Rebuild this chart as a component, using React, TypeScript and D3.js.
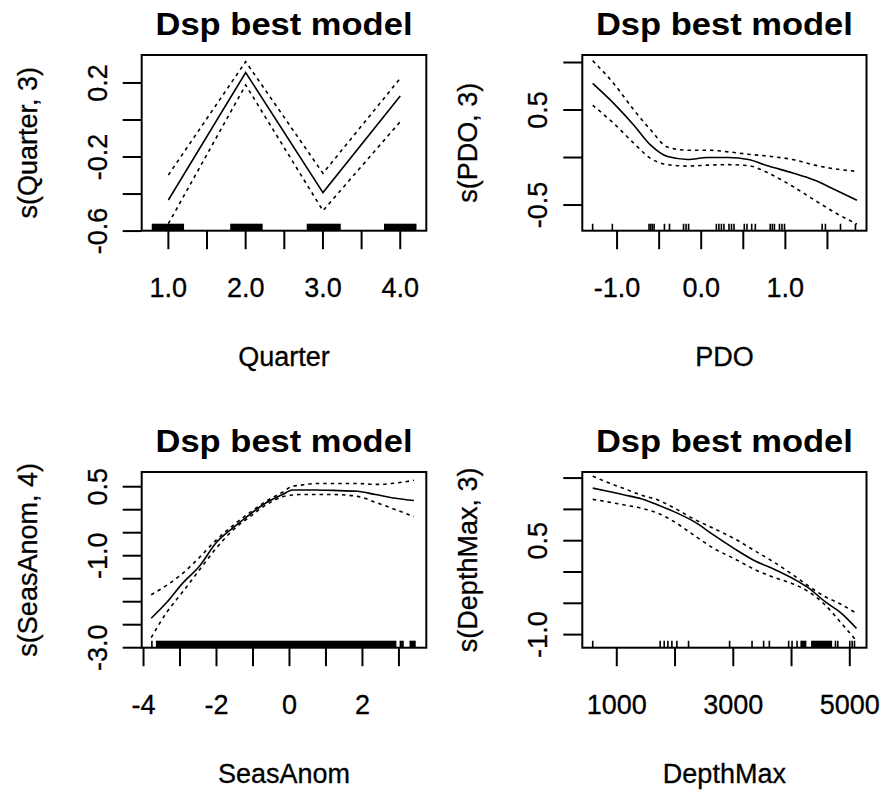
import React from "react";
import * as d3 from "d3";

// ---------- Quarter ----------
const quarterX = [1, 2, 3, 4];
const quarterFit = [-0.432, 0.256, -0.392, 0.13];
const quarterUpper = [-0.297, 0.315, -0.288, 0.225];
const quarterLower = [-0.56, 0.189, -0.49, -0.009];
const quarterRugTicks: number[] = [];
const quarterRugBands = [[0.785, 1.203], [1.8, 2.22], [2.79, 3.23], [3.79, 4.21]];
const quarterXDomain = [0.655, 4.337];
const quarterYDomain = [-0.598, 0.351];
const quarterXTicks = [1, 1.5, 2, 2.5, 3, 3.5, 4];
const quarterXLabels = ["1.0", "", "2.0", "", "3.0", "", "4.0"];
const quarterYTicks = [-0.6, -0.4, -0.2, 0, 0.2];
const quarterYLabels = ["-0.6", "", "-0.2", "", "0.2"];

// ---------- PDO ----------
const pdoX = [-1.29, -1.04, -0.8, -0.6, -0.4, -0.16, 0.08, 0.32, 0.56, 0.8, 1.08, 1.35, 1.59, 1.85];
const pdoFit = [0.78, 0.57, 0.34, 0.13, 0.01, -0.02, 0.0, 0.0, -0.02, -0.09, -0.16, -0.24, -0.34, -0.45];
const pdoUpper = [1.02, 0.78, 0.5, 0.29, 0.11, 0.077, 0.077, 0.06, 0.035, 0.014, -0.02, -0.08, -0.12, -0.145];
const pdoLower = [0.55, 0.36, 0.15, -0.01, -0.075, -0.09, -0.08, -0.075, -0.085, -0.165, -0.3, -0.45, -0.58, -0.7];
const pdoRugTicks = [-1.29, -1.056, -0.62, -0.6, -0.58, -0.56, -0.437, -0.377, -0.21, -0.18, -0.15, 0.18, 0.21, 0.24, 0.27, 0.33, 0.36, 0.39, 0.512, 0.544, 0.6, 0.643, 0.82, 0.845, 0.87, 0.93, 0.96, 0.99, 1.437, 1.476, 1.655, 1.833];
const pdoRugBands: number[][] = [];
const pdoXDomain = [-1.413, 1.964];
const pdoYDomain = [-0.77, 1.079];
const pdoXTicks = [-1, -0.5, 0, 0.5, 1, 1.5];
const pdoXLabels = ["-1.0", "", "0.0", "", "1.0", ""];
const pdoYTicks = [-0.5, 0, 0.5, 1];
const pdoYLabels = ["-0.5", "", "0.5", ""];

// ---------- SeasAnom ----------
const seasX = [-3.79, -3.38, -2.92, -2.47, -2.01, -1.56, -1.1, -0.65, -0.19, 0.08, 0.27, 0.72, 1.18, 1.86, 2.36, 2.91, 3.41];
const seasFit = [-2.36, -2.03, -1.59, -1.23, -0.72, -0.4, -0.11, 0.145, 0.33, 0.43, 0.43, 0.43, 0.42, 0.4, 0.33, 0.25, 0.2];
const seasUpper = [-1.85, -1.65, -1.38, -1.04, -0.66, -0.35, -0.07, 0.18, 0.38, 0.51, 0.53, 0.57, 0.57, 0.57, 0.55, 0.58, 0.64];
const seasLower = [-2.78, -2.25, -1.78, -1.31, -0.84, -0.45, -0.16, 0.1, 0.28, 0.32, 0.33, 0.33, 0.33, 0.29, 0.16, 0.0, -0.15];
const seasRugTicks = [-3.77, 3.04, 3.08, 3.11];
const seasRugBands = [[-3.66, 2.93], [3.29, 3.46]];
const seasXDomain = [-4.05, 3.75];
const seasYDomain = [-3.0, 0.82];
const seasXTicks = [-4, -3, -2, -1, 0, 1, 2, 3];
const seasXLabels = ["-4", "", "-2", "", "0", "", "2", ""];
const seasYTicks = [-3, -2.5, -2, -1.5, -1, -0.5, 0, 0.5];
const seasYLabels = ["-3.0", "", "", "", "-1.0", "", "", "0.5"];

// ---------- DepthMax ----------
const depthX = [587, 845, 1132, 1418, 1705, 1991, 2335, 2679, 3023, 3367, 3711, 4054, 4284, 4570, 4857, 5115];
const depthFit = [1.34, 1.29, 1.23, 1.17, 1.07, 0.96, 0.8, 0.58, 0.37, 0.18, 0.04, -0.12, -0.25, -0.47, -0.66, -0.9];
const depthUpper = [1.53, 1.43, 1.33, 1.23, 1.15, 1.02, 0.84, 0.69, 0.53, 0.34, 0.15, -0.065, -0.22, -0.39, -0.52, -0.66];
const depthLower = [1.16, 1.12, 1.07, 1.02, 0.94, 0.8, 0.58, 0.37, 0.21, 0.04, -0.09, -0.2, -0.31, -0.52, -0.82, -1.1];
const depthRugTicks = [587, 1745, 1814, 1877, 1946, 2032, 2232, 2937, 3322, 3521, 3619, 3951, 4009, 4095, 4754, 4794, 5000, 5041, 5081];
const depthRugBands = [[4152, 4255], [4336, 4697]];
const depthXDomain = [408, 5287];
const depthYDomain = [-1.209, 1.597];
const depthXTicks = [1000, 2000, 3000, 4000, 5000];
const depthXLabels = ["1000", "", "3000", "", "5000"];
const depthYTicks = [-1, -0.5, 0, 0.5, 1, 1.5];
const depthYLabels = ["-1.0", "", "", "0.5", "", ""];

const titleText = "Dsp best model";
const FONT = "'Liberation Sans', Arial, Helvetica, sans-serif";

type PanelProps = {
  id: string;
  box: [number, number, number, number];
  xs: number[];
  fit: number[];
  upper: number[];
  lower: number[];
  rugTicks: number[];
  rugBands: number[][];
  xDomain: number[];
  yDomain: number[];
  xTicks: number[];
  xLabels: string[];
  yTicks: number[];
  yLabels: string[];
  xTitle: string;
  yTitle: string;
  curve: any;
};

function Panel(p: PanelProps) {
  const [x0, y0, x1, y1] = p.box;
  const x = d3.scaleLinear().domain(p.xDomain).range([x0, x1]);
  const y = d3.scaleLinear().domain(p.yDomain).range([y1, y0]);
  const line = (vals: number[]) =>
    d3
      .line<number>()
      .x((_, i) => x(p.xs[i]))
      .y((d) => y(d))
      .curve(p.curve)(vals) || "";
  const cx = (x0 + x1) / 2;
  const cy = (y0 + y1) / 2;
  const textStyle = { stroke: "#000", strokeWidth: 0.3 };
  return (
    <g>
      <defs>
        <clipPath id={"clip-" + p.id}>
          <rect x={x0} y={y0} width={x1 - x0} height={y1 - y0} />
        </clipPath>
      </defs>
      <g clipPath={`url(#clip-${p.id})`}>
        <path d={line(p.fit)} fill="none" stroke="#000" strokeWidth={1.6} />
        <path d={line(p.upper)} fill="none" stroke="#000" strokeWidth={1.6} strokeDasharray="3.5 4" />
        <path d={line(p.lower)} fill="none" stroke="#000" strokeWidth={1.6} strokeDasharray="3.5 4" />
        {p.rugTicks.map((v, i) => (
          <line key={"rt" + i} x1={x(v)} x2={x(v)} y1={y1} y2={y1 - 7} stroke="#000" strokeWidth={1.6} />
        ))}
        {p.rugBands.map((b, i) => (
          <rect key={"rb" + i} x={x(b[0])} y={y1 - 7} width={x(b[1]) - x(b[0])} height={7} fill="#000" />
        ))}
      </g>
      <rect x={x0} y={y0} width={x1 - x0} height={y1 - y0} fill="none" stroke="#000" strokeWidth={2} />
      {p.xTicks.map((t, i) => (
        <g key={"xt" + i}>
          <line x1={x(t)} x2={x(t)} y1={y1} y2={y1 + 18.5} stroke="#000" strokeWidth={2} />
          {p.xLabels[i] && (
            <text x={x(t)} y={y1 + 66.3} textAnchor="middle" fontSize={27} fontFamily={FONT} fill="#000" style={textStyle}>
              {p.xLabels[i]}
            </text>
          )}
        </g>
      ))}
      {p.yTicks.map((t, i) => (
        <g key={"yt" + i}>
          <line x1={x0 - 19} x2={x0} y1={y(t)} y2={y(t)} stroke="#000" strokeWidth={2} />
          {p.yLabels[i] && (
            <text
              transform={`translate(${x0 - 35},${y(t)}) rotate(-90)`}
              textAnchor="middle"
              fontSize={27}
              fontFamily={FONT}
              fill="#000"
              style={textStyle}
            >
              {p.yLabels[i]}
            </text>
          )}
        </g>
      ))}
      <text
        x={cx}
        y={y0 - 20}
        textAnchor="middle"
        fontSize={31}
        fontWeight="bold"
        fontFamily={FONT}
        textLength={257}
        lengthAdjust="spacingAndGlyphs"
        fill="#000"
      >
        {titleText}
      </text>
      <text x={cx} y={y1 + 135} textAnchor="middle" fontSize={27} fontFamily={FONT} fill="#000" style={textStyle}>
        {p.xTitle}
      </text>
      <text
        transform={`translate(${x0 - 105},${cy}) rotate(-90)`}
        textAnchor="middle"
        fontSize={27}
        fontFamily={FONT}
        fill="#000"
        style={textStyle}
      >
        {p.yTitle}
      </text>
    </g>
  );
}

export default function App() {
  const L = [141.7, 426.3];
  const R = [582.3, 866.5];
  const T = [55, 230.7];
  const B = [472, 647.7];
  return (
    <svg
      width={882}
      height={792}
      style={{ position: "absolute", left: 0, top: 0, background: "#fff" }}
    >
      <rect x={0} y={0} width={882} height={792} fill="#fff" />
      <Panel
        id="q"
        box={[L[0], T[0], L[1], T[1]]}
        xs={quarterX}
        fit={quarterFit}
        upper={quarterUpper}
        lower={quarterLower}
        rugTicks={quarterRugTicks}
        rugBands={quarterRugBands}
        xDomain={quarterXDomain}
        yDomain={quarterYDomain}
        xTicks={quarterXTicks}
        xLabels={quarterXLabels}
        yTicks={quarterYTicks}
        yLabels={quarterYLabels}
        xTitle="Quarter"
        yTitle="s(Quarter, 3)"
        curve={d3.curveLinear}
      />
      <Panel
        id="p"
        box={[R[0], T[0], R[1], T[1]]}
        xs={pdoX}
        fit={pdoFit}
        upper={pdoUpper}
        lower={pdoLower}
        rugTicks={pdoRugTicks}
        rugBands={pdoRugBands}
        xDomain={pdoXDomain}
        yDomain={pdoYDomain}
        xTicks={pdoXTicks}
        xLabels={pdoXLabels}
        yTicks={pdoYTicks}
        yLabels={pdoYLabels}
        xTitle="PDO"
        yTitle="s(PDO, 3)"
        curve={d3.curveMonotoneX}
      />
      <Panel
        id="s"
        box={[L[0], B[0], L[1], B[1]]}
        xs={seasX}
        fit={seasFit}
        upper={seasUpper}
        lower={seasLower}
        rugTicks={seasRugTicks}
        rugBands={seasRugBands}
        xDomain={seasXDomain}
        yDomain={seasYDomain}
        xTicks={seasXTicks}
        xLabels={seasXLabels}
        yTicks={seasYTicks}
        yLabels={seasYLabels}
        xTitle="SeasAnom"
        yTitle="s(SeasAnom, 4)"
        curve={d3.curveMonotoneX}
      />
      <Panel
        id="d"
        box={[R[0], B[0], R[1], B[1]]}
        xs={depthX}
        fit={depthFit}
        upper={depthUpper}
        lower={depthLower}
        rugTicks={depthRugTicks}
        rugBands={depthRugBands}
        xDomain={depthXDomain}
        yDomain={depthYDomain}
        xTicks={depthXTicks}
        xLabels={depthXLabels}
        yTicks={depthYTicks}
        yLabels={depthYLabels}
        xTitle="DepthMax"
        yTitle="s(DepthMax, 3)"
        curve={d3.curveMonotoneX}
      />
    </svg>
  );
}
